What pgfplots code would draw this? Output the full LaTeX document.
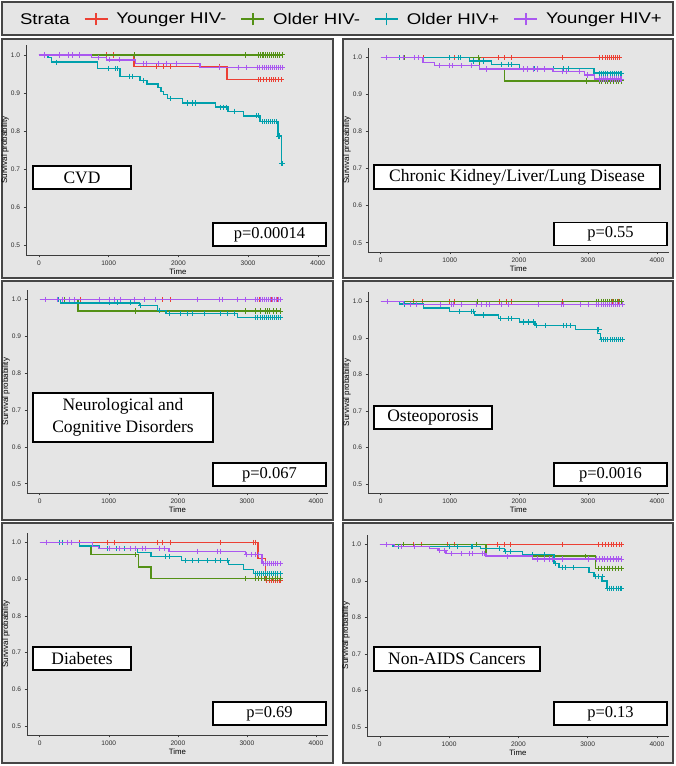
\documentclass[border=0pt]{standalone}
\usepackage{pgfplots}
\pgfplotsset{compat=1.18}
\usepackage{fontspec}
\setmainfont{Liberation Sans}
\newfontfamily\timesf{Liberation Serif}
\newfontfamily\legfont[FakeStretch=1.2]{Liberation Sans}
\definecolor{cRed}{RGB}{236,64,52}
\definecolor{cGreen}{RGB}{84,145,22}
\definecolor{cTeal}{RGB}{0,160,172}
\definecolor{cPurple}{RGB}{170,88,240}
\definecolor{panelbg}{RGB}{229,229,229}
\definecolor{panelbd}{RGB}{70,70,70}
\definecolor{axgray}{RGB}{60,60,60}
\definecolor{ticktxt}{RGB}{45,45,45}
\pgfplotsset{
 kmax/.style={
  scale only axis, anchor=south west,
  xmin=-185, xmax=4175, ymin=0.475, ymax=1.026,
  axis x line=bottom, axis y line=left,
  axis line style={-, draw=axgray, line width=0.8pt},
  xtick={0,1000,2000,3000,4000}, ytick={0.5,0.6,0.7,0.8,0.9,1.0},
  tick align=outside, major tick length=2.4pt,
  tick style={draw=axgray, line width=0.6pt},
  /pgf/number format/assume math mode=true,
  ticklabel style={font=\fontsize{6.6}{7.5}\selectfont, text=ticktxt},
  xticklabel style={/pgf/number format/1000 sep={}},
  yticklabel style={/pgf/number format/fixed, /pgf/number format/fixed zerofill, /pgf/number format/precision=1},
  xlabel={Time}, ylabel={Survival probability},
  xlabel style={font=\fontsize{7.8}{9}\selectfont, inner sep=1.5pt},
  ylabel style={font=\fontsize{8}{9}\selectfont, inner sep=1pt},
  ylabel shift={-2.5pt}, xlabel shift={-1.5pt},
  clip mode=individual,
 },
 kml/.style={const plot, line width=1.35pt, mark=none, forget plot},
 kmm/.style={only marks, mark=+, mark size=2.6pt, mark options={line width=0.95pt, solid}, forget plot},
}
\begin{document}
\begin{tikzpicture}
\begin{scope}[x=1pt,y=-1pt,yshift=766pt]
\path[use as bounding box] (0,0) rectangle (676,766);
\foreach \a/\b/\c/\d in {2/2/673/35, 2/39/333/278, 343/39/673/278, 2/281/333/520, 343/281/673/520, 2/523/333/763, 343/523/673/763}
  \draw[panelbd, line width=1.6pt, fill=panelbg] (\a,\b) rectangle (\c,\d);
\end{scope}

% ---------- Panel 1: CVD ----------
\begin{axis}[kmax, at={(26pt,511pt)}, width=304pt, height=210pt,
  legend style={at={(1.026,1.122)}, anchor=center, draw=none, fill=none,
    font=\legfont\fontsize{15.5}{18}\selectfont, legend columns=-1,
    /tikz/every odd column/.append style={column sep=6pt},
    /tikz/every even column/.append style={column sep=12pt}},
  legend image code/.code={\draw[#1, line width=1.8pt] (0pt,0pt) -- (23pt,0pt); \draw[#1, line width=1.8pt] (11.5pt,-6pt) -- (11.5pt,6pt);}]
\addlegendimage{empty legend}\addlegendentry{Strata}
\addlegendimage{cRed}\addlegendentry{Younger HIV-}
\addlegendimage{cGreen}\addlegendentry{Older HIV-}
\addlegendimage{cTeal}\addlegendentry{Older HIV+}
\addlegendimage{cPurple}\addlegendentry{Younger HIV+}
\addplot[kml, cRed] coordinates {(0,1)(1362,0.970)(2700,0.935)(3490,0.935)};
\addplot[kmm, cRed] coordinates {(970,1)(1066,1)(1687,0.970)(1783,0.970)(1892,0.970)(2595,0.970)(3150,0.935)(3180,0.935)(3220,0.935)(3260,0.935)(3300,0.935)(3330,0.935)(3360,0.935)(3400,0.935)(3440,0.935)(3480,0.935)};
\addplot[kml, cGreen] coordinates {(0,1)(3490,1)};
\addplot[kmm, cGreen] coordinates {(1376,1)(2968,1)(3150,1)(3180,1)(3200,1)(3225,1)(3250,1)(3275,1)(3300,1)(3330,1)(3360,1)(3390,1)(3420,1)(3455,1)(3490,1)};
\addplot[kml, cTeal] coordinates {(0,1)(133,0.993)(182,0.981)(840,0.964)(1165,0.944)(1450,0.933)(1550,0.924)(1710,0.915)(1750,0.904)(1790,0.896)(1840,0.885)(2060,0.874)(2530,0.863)(2710,0.852)(2930,0.840)(3170,0.825)(3430,0.787)(3475,0.715)(3490,0.715)};
\addplot[kmm, cTeal] coordinates {(250,0.981)(995,0.964)(1100,0.964)(1130,0.964)(1300,0.944)(1340,0.944)(1500,0.933)(1880,0.885)(2130,0.874)(2200,0.874)(2250,0.874)(2600,0.863)(2640,0.863)(2690,0.863)(2800,0.852)(3120,0.840)(3150,0.840)(3200,0.825)(3230,0.825)(3260,0.825)(3290,0.825)(3320,0.825)(3350,0.825)(3380,0.825)(3410,0.825)(3440,0.787)(3452,0.787)(3480,0.715)(3488,0.715)};
\addplot[kml, cPurple] coordinates {(0,1)(755,0.993)(970,0.987)(1390,0.977)(2308,0.967)(3490,0.967)};
\addplot[kmm, cPurple] coordinates {(86,1)(301,1)(420,1)(483,1)(588,1)(850,0.993)(1018,0.987)(1151,0.987)(1495,0.977)(1544,0.977)(1710,0.977)(1830,0.977)(1974,0.977)(2595,0.967)(2857,0.967)(2978,0.967)(3130,0.967)(3170,0.967)(3200,0.967)(3230,0.967)(3260,0.967)(3290,0.967)(3320,0.967)(3350,0.967)(3380,0.967)(3410,0.967)(3440,0.967)(3470,0.967)(3490,0.967)};
\end{axis}

% ---------- Panel 2: Chronic ----------
\begin{axis}[kmax, at={(368pt,514pt)}, width=301pt, height=204pt]
\addplot[kml, cRed] coordinates {(0,1)(3490,1)};
\addplot[kmm, cRed] coordinates {(613,1)(999,1)(1071,1)(1698,1)(1795,1)(1891,1)(2639,1)(3170,1)(3210,1)(3250,1)(3280,1)(3310,1)(3340,1)(3370,1)(3400,1)(3430,1)(3460,1)};
\addplot[kml, cGreen] coordinates {(0,1)(1433,0.969)(1795,0.937)(3490,0.937)};
\addplot[kmm, cGreen] coordinates {(347,1)(1409,1)(2977,0.937)(3170,0.937)(3200,0.937)(3250,0.937)(3290,0.937)(3330,0.937)(3370,0.937)(3410,0.937)(3450,0.937)(3490,0.937)};
\addplot[kml, cTeal] coordinates {(0,1)(1288,0.991)(1602,0.982)(2012,0.970)(3088,0.958)(3490,0.958)};
\addplot[kmm, cTeal] coordinates {(275,1)(999,1)(1119,1)(1150,1)(1337,0.991)(1481,0.991)(1747,0.982)(1843,0.982)(1891,0.982)(2060,0.970)(2220,0.970)(2500,0.970)(2640,0.970)(2720,0.970)(3170,0.958)(3200,0.958)(3230,0.958)(3260,0.958)(3290,0.958)(3320,0.958)(3350,0.958)(3380,0.958)(3410,0.958)(3440,0.958)(3470,0.958)(3490,0.958)};
\addplot[kml, cPurple] coordinates {(0,1)(613,0.987)(782,0.978)(1433,0.969)(2494,0.962)(2953,0.953)(3098,0.942)(3490,0.942)};
\addplot[kmm, cPurple] coordinates {(82,1)(323,1)(492,1)(540,1)(849,0.978)(994,0.978)(1042,0.978)(1162,0.978)(1307,0.978)(1529,0.969)(2060,0.969)(2132,0.969)(2205,0.969)(2277,0.969)(2374,0.969)(2639,0.962)(2687,0.962)(2880,0.962)(3001,0.953)(3170,0.942)(3200,0.942)(3230,0.942)(3260,0.942)(3290,0.942)(3320,0.942)(3350,0.942)(3380,0.942)(3410,0.942)(3440,0.942)(3470,0.942)(3490,0.942)};
\end{axis}

% ---------- Panel 3: Neurological ----------
\begin{axis}[kmax, at={(27pt,273pt)}, width=301pt, height=203pt]
\addplot[kml, cRed] coordinates {(0,1)(3490,1)};
\addplot[kmm, cRed] coordinates {(594,1)(1077,1)(1681,1)(1778,1)(1899,1)(3180,1)(3250,1)(3350,1)(3450,1)};
\addplot[kml, cGreen] coordinates {(0,1)(556,0.969)(3490,0.969)};
\addplot[kmm, cGreen] coordinates {(353,1)(1391,0.969)(2985,0.969)(3130,0.969)(3200,0.969)(3270,0.969)(3300,0.969)(3330,0.969)(3380,0.969)(3430,0.969)(3480,0.969)};
\addplot[kml, cTeal] coordinates {(0,1)(304,0.991)(1440,0.984)(1705,0.971)(1826,0.962)(2865,0.952)(3490,0.952)};
\addplot[kmm, cTeal] coordinates {(270,1)(1005,0.991)(1126,0.991)(1319,0.991)(1464,0.984)(1739,0.971)(1874,0.962)(2043,0.962)(2140,0.962)(2213,0.962)(2382,0.962)(2623,0.962)(2720,0.962)(2817,0.962)(3130,0.952)(3160,0.952)(3190,0.952)(3220,0.952)(3250,0.952)(3280,0.952)(3310,0.952)(3340,0.952)(3370,0.952)(3400,0.952)(3430,0.952)(3460,0.952)(3490,0.952)};
\addplot[kml, cPurple] coordinates {(0,1)(3490,1)};
\addplot[kmm, cPurple] coordinates {(87,1)(256,1)(329,1)(425,1)(498,1)(860,1)(1005,1)(1077,1)(1174,1)(1367,1)(1512,1)(1681,1)(2285,1)(2599,1)(2647,1)(2865,1)(2985,1)(3130,1)(3160,1)(3190,1)(3220,1)(3250,1)(3280,1)(3310,1)(3340,1)(3370,1)(3400,1)(3430,1)(3460,1)(3490,1)};
\end{axis}

% ---------- Panel 4: Osteoporosis ----------
\begin{axis}[kmax, at={(368pt,273pt)}, width=301pt, height=201pt]
\addplot[kml, cRed] coordinates {(0,1)(3490,1)};
\addplot[kmm, cRed] coordinates {(480,1)(600,1)(1000,1)(1070,1)(1720,1)(1820,1)(1900,1)(2630,1)(3150,1)(3250,1)(3350,1)(3450,1)};
\addplot[kml, cGreen] coordinates {(0,1)(3490,1)};
\addplot[kmm, cGreen] coordinates {(1400,1)(3130,1)(3160,1)(3190,1)(3220,1)(3250,1)(3280,1)(3310,1)(3340,1)(3370,1)(3400,1)(3430,1)(3460,1)(3490,1)};
\addplot[kml, cTeal] coordinates {(0,1)(267,0.993)(617,0.982)(996,0.973)(1361,0.963)(1701,0.953)(2007,0.944)(2236,0.934)(2819,0.923)(3135,0.913)(3183,0.895)(3500,0.895)};
\addplot[kmm, cTeal] coordinates {(340,0.993)(1142,0.973)(1312,0.973)(1337,0.973)(1482,0.963)(1740,0.953)(1847,0.953)(1895,0.953)(2065,0.944)(2138,0.944)(2211,0.944)(2260,0.934)(2381,0.934)(2648,0.934)(2697,0.934)(2746,0.934)(3135,0.923)(3160,0.923)(3200,0.895)(3230,0.895)(3260,0.895)(3290,0.895)(3320,0.895)(3350,0.895)(3380,0.895)(3410,0.895)(3440,0.895)(3470,0.895)(3500,0.895)};
\addplot[kml, cPurple] coordinates {(0,1)(330,0.991)(3500,0.991)};
\addplot[kmm, cPurple] coordinates {(97,1)(437,0.991)(510,0.991)(860,0.991)(1030,0.991)(1050,0.991)(1166,0.991)(1385,0.991)(1458,0.991)(1531,0.991)(1580,0.991)(1750,0.991)(1847,0.991)(2284,0.991)(2624,0.991)(2648,0.991)(2891,0.991)(3012,0.991)(3130,0.991)(3160,0.991)(3190,0.991)(3220,0.991)(3250,0.991)(3280,0.991)(3310,0.991)(3340,0.991)(3370,0.991)(3400,0.991)(3430,0.991)(3460,0.991)(3500,0.991)};
\end{axis}

% ---------- Panel 5: Diabetes ----------
\begin{axis}[kmax, at={(27pt,31pt)}, width=301pt, height=202pt]
\addplot[kml, cRed] coordinates {(0,1)(3160,0.956)(3265,0.897)(3490,0.897)};
\addplot[kmm, cRed] coordinates {(576,1)(984,1)(1080,1)(1705,1)(1777,1)(1897,1)(2617,1)(3097,1)(3130,1)(3217,0.956)(3290,0.897)(3320,0.897)(3350,0.897)(3380,0.897)(3410,0.897)(3440,0.897)(3470,0.897)(3490,0.897)};
\addplot[kml, cGreen] coordinates {(0,1)(576,0.991)(744,0.967)(1431,0.933)(1609,0.901)(3490,0.901)};
\addplot[kmm, cGreen] coordinates {(336,1)(1383,0.967)(2977,0.901)(3130,0.901)(3170,0.901)(3210,0.901)(3250,0.901)(3290,0.901)(3330,0.901)(3370,0.901)(3410,0.901)(3450,0.901)(3490,0.901)};
\addplot[kml, cTeal] coordinates {(0,1)(576,0.991)(864,0.983)(1417,0.973)(1609,0.962)(2055,0.951)(2737,0.940)(2953,0.927)(3097,0.915)(3490,0.915)};
\addplot[kmm, cTeal] coordinates {(288,1)(336,1)(984,0.983)(1104,0.983)(1225,0.983)(1393,0.983)(1825,0.962)(1873,0.962)(2113,0.951)(2209,0.951)(2305,0.951)(2425,0.951)(2545,0.951)(2617,0.951)(2713,0.951)(3120,0.915)(3150,0.915)(3180,0.915)(3210,0.915)(3240,0.915)(3270,0.915)(3300,0.915)(3330,0.915)(3360,0.915)(3390,0.915)(3420,0.915)(3450,0.915)(3490,0.915)};
\addplot[kml, cPurple] coordinates {(0,1)(768,0.990)(855,0.984)(1873,0.976)(2977,0.967)(3217,0.943)(3490,0.943)};
\addplot[kmm, cPurple] coordinates {(96,1)(408,1)(456,1)(1008,0.984)(1152,0.984)(1320,0.984)(1393,0.984)(1489,0.984)(1537,0.984)(1729,0.984)(1801,0.984)(2281,0.976)(2569,0.976)(2617,0.976)(3001,0.967)(3073,0.967)(3121,0.967)(3169,0.967)(3240,0.943)(3270,0.943)(3300,0.943)(3330,0.943)(3360,0.943)(3390,0.943)(3420,0.943)(3450,0.943)(3490,0.943)};
\end{axis}

% ---------- Panel 6: Non-AIDS Cancers ----------
\begin{axis}[kmax, at={(367pt,30pt)}, width=302pt, height=201pt]
\addplot[kml, cRed] coordinates {(0,1)(3490,1)};
\addplot[kmm, cRed] coordinates {(335,1)(479,1)(599,1)(982,1)(1078,1)(1701,1)(1797,1)(1893,1)(2634,1)(3160,1)(3210,1)(3260,1)(3300,1)(3340,1)(3380,1)(3420,1)(3460,1)(3490,1)};
\addplot[kml, cGreen] coordinates {(0,1)(1533,0.968)(3114,0.935)(3490,0.935)};
\addplot[kmm, cGreen] coordinates {(335,1)(1389,1)(2970,0.968)(3160,0.935)(3200,0.935)(3240,0.935)(3280,0.935)(3320,0.935)(3360,0.935)(3400,0.935)(3440,0.935)(3490,0.935)};
\addplot[kml, cTeal] coordinates {(0,1)(192,0.995)(1450,0.989)(1796,0.981)(2060,0.972)(2515,0.948)(2587,0.937)(3018,0.923)(3090,0.913)(3209,0.900)(3281,0.880)(3490,0.880)};
\addplot[kmm, cTeal] coordinates {(263,0.995)(1006,0.995)(1126,0.995)(1318,0.995)(1342,0.995)(1724,0.989)(1821,0.981)(1893,0.981)(2204,0.972)(2371,0.972)(2539,0.948)(2635,0.937)(2683,0.937)(2803,0.937)(3114,0.913)(3161,0.913)(3209,0.913)(3290,0.880)(3320,0.880)(3350,0.880)(3380,0.880)(3410,0.880)(3440,0.880)(3470,0.880)(3490,0.880)};
\addplot[kml, cPurple] coordinates {(0,1)(216,0.995)(718,0.989)(838,0.983)(958,0.975)(1533,0.968)(2203,0.960)(3490,0.960)};
\addplot[kmm, cPurple] coordinates {(96,1)(311,0.995)(503,0.995)(862,0.983)(940,0.983)(1030,0.975)(1174,0.975)(1294,0.975)(1342,0.975)(1485,0.975)(1509,0.975)(1845,0.968)(2275,0.960)(2371,0.960)(2443,0.960)(2491,0.960)(2635,0.960)(3018,0.960)(3130,0.960)(3170,0.960)(3210,0.960)(3250,0.960)(3290,0.960)(3330,0.960)(3370,0.960)(3410,0.960)(3450,0.960)(3490,0.960)};
\end{axis}

\begin{scope}[x=1pt,y=-1pt,yshift=766pt,
  lbox/.style={draw=black, line width=1.3pt, fill=white, inner sep=0pt, font=\timesf\fontsize{17.5}{22}\selectfont, align=center},
  pbox/.style={draw=black, line width=1.3pt, fill=white, inner sep=0pt, font=\timesf\fontsize{16.5}{20}\selectfont, minimum width=113pt, minimum height=23pt}]
\node[lbox, minimum width=98pt, minimum height=23pt] at (82,177.5) {CVD};
\node[pbox] at (269.5,234.5) {p=0.00014};
\node[lbox, minimum width=286pt, minimum height=24pt] at (517,177) {Chronic Kidney/Liver/Lung Disease};
\node[pbox] at (610.5,234) {p=0.55};
\node[lbox, minimum width=180pt, minimum height=49pt] at (123,417.5) {Neurological and\\Cognitive Disorders};
\node[pbox] at (269.5,474.5) {p=0.067};
\node[lbox, minimum width=118pt, minimum height=23pt] at (433,417.5) {Osteoporosis};
\node[pbox] at (610.5,474.5) {p=0.0016};
\node[lbox, minimum width=98pt, minimum height=23pt] at (82,658.5) {Diabetes};
\node[pbox] at (269.5,713.5) {p=0.69};
\node[lbox, minimum width=166pt, minimum height=24pt] at (457,659) {Non-AIDS Cancers};
\node[pbox] at (610.5,713.5) {p=0.13};
\end{scope}
\end{tikzpicture}
\end{document}
